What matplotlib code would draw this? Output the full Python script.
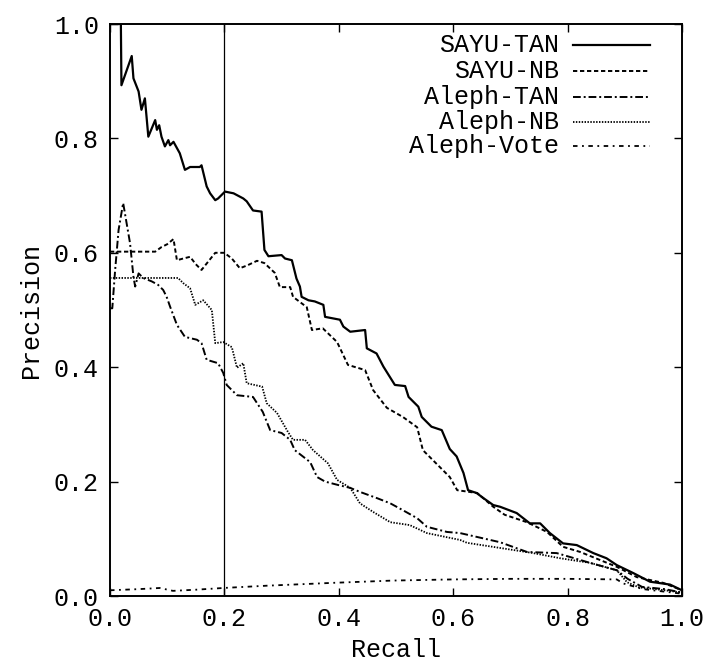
import matplotlib
matplotlib.use("Agg")
import matplotlib.pyplot as plt
from matplotlib.lines import Line2D

plt.rcParams["font.family"] = ["Liberation Mono", "DejaVu Sans Mono"]

# SAYU-TAN
sayu_tan_x = [0, 0.019, 0.020, 0.038, 0.041, 0.05, 0.055, 0.061, 0.067, 0.079, 0.082, 0.086,
              0.09, 0.096, 0.102, 0.105, 0.111, 0.122, 0.131, 0.14, 0.157, 0.16, 0.169, 0.175,
              0.184, 0.189, 0.201, 0.216, 0.233, 0.239, 0.25, 0.265, 0.27, 0.277, 0.30, 0.306,
              0.318, 0.326, 0.332, 0.335, 0.347, 0.358, 0.373, 0.376, 0.402, 0.408, 0.42, 0.446,
              0.449, 0.466, 0.478, 0.498, 0.516, 0.522, 0.539, 0.545, 0.562, 0.58, 0.594, 0.606,
              0.618, 0.626, 0.641, 0.653, 0.67, 0.682, 0.711, 0.734, 0.752, 0.769, 0.792, 0.816,
              0.845, 0.868, 0.886, 0.915, 0.944, 0.979, 1.0]
sayu_tan_y = [1.0, 1.0, 0.893, 0.944, 0.905, 0.882, 0.85, 0.87, 0.803, 0.832, 0.815, 0.823,
              0.803, 0.786, 0.797, 0.788, 0.794, 0.774, 0.745, 0.75, 0.75, 0.753, 0.716, 0.704,
              0.692, 0.695, 0.707, 0.704, 0.695, 0.69, 0.674, 0.672, 0.605, 0.594, 0.596, 0.59,
              0.587, 0.555, 0.541, 0.523, 0.517, 0.515, 0.509, 0.488, 0.483, 0.471, 0.462, 0.465,
              0.433, 0.424, 0.401, 0.369, 0.367, 0.348, 0.331, 0.313, 0.296, 0.29, 0.257, 0.244,
              0.215, 0.185, 0.18, 0.171, 0.159, 0.156, 0.145, 0.127, 0.127, 0.11, 0.092, 0.089,
              0.075, 0.066, 0.054, 0.04, 0.025, 0.02, 0.01]

# SAYU-NB
sayu_nb_x = [0, 0.079, 0.09, 0.1, 0.111, 0.117, 0.128, 0.14, 0.15, 0.16, 0.172, 0.184, 0.2,
             0.213, 0.227, 0.24, 0.257, 0.27, 0.288, 0.297, 0.315, 0.32, 0.344, 0.353, 0.372,
             0.397, 0.416, 0.446, 0.46, 0.484, 0.512, 0.537, 0.547, 0.594, 0.607, 0.642, 0.67,
             0.69, 0.729, 0.764, 0.792, 0.822, 0.886, 0.921, 0.967, 1.0]
sayu_nb_y = [0.602, 0.602, 0.61, 0.615, 0.624, 0.587, 0.59, 0.593, 0.58, 0.57, 0.585, 0.60, 0.60,
             0.59, 0.573, 0.578, 0.586, 0.582, 0.565, 0.54, 0.54, 0.523, 0.505, 0.465, 0.468,
             0.444, 0.404, 0.395, 0.36, 0.329, 0.313, 0.295, 0.255, 0.208, 0.185, 0.18, 0.156,
             0.142, 0.129, 0.112, 0.086, 0.077, 0.051, 0.033, 0.023, 0.01]

# Aleph-TAN
aleph_tan_x = [0, 0.004, 0.009, 0.015, 0.023, 0.029, 0.035, 0.041, 0.044, 0.05, 0.058, 0.073,
               0.084, 0.093, 0.099, 0.105, 0.117, 0.131, 0.152, 0.16, 0.169, 0.189, 0.198, 0.204,
               0.222, 0.25, 0.267, 0.28, 0.30, 0.315, 0.323, 0.35, 0.362, 0.376, 0.399, 0.42,
               0.437, 0.467, 0.49, 0.512, 0.537, 0.554, 0.589, 0.612, 0.682, 0.729, 0.781, 0.839,
               0.886, 0.905, 0.93, 0.97, 1.0]
aleph_tan_y = [0.503, 0.503, 0.57, 0.64, 0.687, 0.652, 0.617, 0.558, 0.541, 0.564, 0.556, 0.55,
               0.544, 0.535, 0.523, 0.506, 0.474, 0.453, 0.448, 0.442, 0.413, 0.407, 0.39, 0.369,
               0.351, 0.348, 0.322, 0.29, 0.285, 0.273, 0.255, 0.234, 0.208, 0.2, 0.194, 0.189,
               0.182, 0.171, 0.162, 0.15, 0.136, 0.121, 0.112, 0.11, 0.094, 0.077, 0.075, 0.058,
               0.045, 0.03, 0.016, 0.012, 0.006]

# Aleph-NB
aleph_nb_x = [0, 0.119, 0.128, 0.14, 0.149, 0.163, 0.178, 0.184, 0.198, 0.213, 0.222, 0.233,
              0.239, 0.266, 0.274, 0.292, 0.311, 0.32, 0.341, 0.355, 0.381, 0.397, 0.42, 0.437,
              0.46, 0.49, 0.524, 0.554, 0.612, 0.624, 0.682, 0.74, 0.787, 0.839, 0.886, 0.904,
              0.925, 0.944, 0.97, 1.0]
aleph_nb_y = [0.556, 0.556, 0.547, 0.538, 0.509, 0.517, 0.5, 0.442, 0.444, 0.435, 0.399, 0.407,
              0.372, 0.366, 0.337, 0.32, 0.287, 0.273, 0.273, 0.255, 0.232, 0.203, 0.189, 0.162,
              0.147, 0.129, 0.124, 0.11, 0.098, 0.093, 0.084, 0.075, 0.066, 0.058, 0.045, 0.024,
              0.015, 0.013, 0.01, 0.006]

# Aleph-Vote
aleph_vote_x = [0, 0.05, 0.087, 0.11, 0.15, 0.198, 0.274, 0.39, 0.495, 0.6, 0.7, 0.8, 0.886,
                0.897, 0.932, 1.0]
aleph_vote_y = [0.01, 0.012, 0.014, 0.009, 0.011, 0.014, 0.018, 0.023, 0.027, 0.029, 0.03, 0.03,
                0.029, 0.022, 0.012, 0.004]

ticks = [0.0, 0.2, 0.4, 0.6, 0.8, 1.0]
tick_labels = ["0.0", "0.2", "0.4", "0.6", "0.8", "1.0"]

series = [
    ("SAYU-TAN", sayu_tan_x, sayu_tan_y, "-", 1.6),
    ("SAYU-NB", sayu_nb_x, sayu_nb_y, (0, (2.2, 1.4)), 1.4),
    ("Aleph-TAN", aleph_tan_x, aleph_tan_y, (0, (4, 1.5, 1, 1.5)), 1.4),
    ("Aleph-NB", aleph_nb_x, aleph_nb_y, (0, (0.8, 0.8)), 1.3),
    ("Aleph-Vote", aleph_vote_x, aleph_vote_y, (0, (2.5, 2.5, 1, 2.5)), 1.3),
]

fig = plt.figure(figsize=(7.04, 6.70), dpi=100)
ax = fig.add_axes([110 / 704, 1 - 596 / 670, 572 / 704, 572 / 670])

for name, xs, ys, ls, lw in series:
    ax.plot(xs, ys, color="black", linestyle=ls, linewidth=lw)

ax.axvline(0.2, color="black", linewidth=0.9)

ax.set_xlim(0, 1)
ax.set_ylim(0, 1)
ax.set_xticks(ticks)
ax.set_xticklabels(tick_labels)
ax.set_yticks(ticks)
ax.set_yticklabels(tick_labels)
ax.tick_params(direction="in", length=6, width=1, top=True, right=True,
               labelsize=18, pad=8)
for s in ax.spines.values():
    s.set_linewidth(1.4)

ax.set_xlabel("Recall", fontsize=18, labelpad=5)
ax.set_ylabel("Precision", fontsize=18, labelpad=8)

# legend drawn by hand: text right-aligned, sample to the right
rows = [0.964, 0.918, 0.873, 0.829, 0.786]
for (name, xs, ys, ls, lw), ry in zip(series, rows):
    ax.text(0.785, ry, name, transform=ax.transAxes, ha="right", va="center", fontsize=18)
    ax.add_line(Line2D([0.81, 0.944], [ry, ry], transform=ax.transAxes, color="black",
                       linestyle=ls, linewidth=lw))

fig.savefig("out.png", dpi=100)
